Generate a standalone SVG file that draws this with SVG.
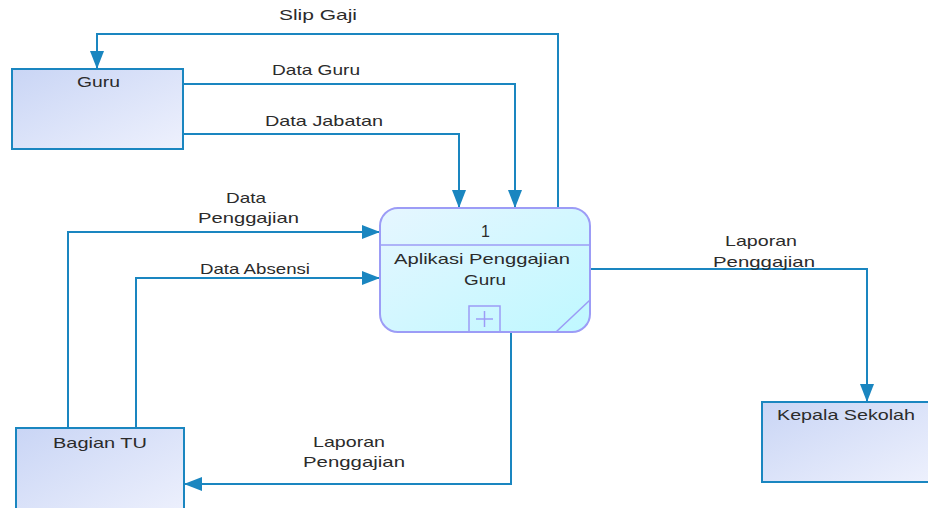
<svg xmlns="http://www.w3.org/2000/svg" width="928" height="508" viewBox="0 0 928 508">
<defs>
<linearGradient id="ent" x1="0" y1="0" x2="1" y2="1">
<stop offset="0" stop-color="#c9d5f5"/>
<stop offset="1" stop-color="#eef1fd"/>
</linearGradient>
<linearGradient id="proc" x1="0" y1="0" x2="1" y2="1">
<stop offset="0" stop-color="#e6f6ff"/>
<stop offset="1" stop-color="#bff8ff"/>
</linearGradient>
<marker id="arr" viewBox="0 0 18 14" refX="18" refY="7" markerWidth="18" markerHeight="14" markerUnits="userSpaceOnUse" orient="auto">
<path d="M0,0 L18,7 L0,14 Z" fill="#1a86c0"/>
</marker>
</defs>
<style>
text{font-family:"Liberation Sans",Arial,sans-serif;font-size:15px;fill:#2b2b2b;text-anchor:start}
.ent{fill:url(#ent);stroke:#1a86c0;stroke-width:2}
.proc{fill:url(#proc);stroke:#9c9cf6;stroke-width:2}
.pl{fill:none;stroke:#9c9cf6;stroke-width:1.5}
.c{fill:none;stroke:#1a86c0;stroke-width:2;marker-end:url(#arr)}
</style>
<g id="connectors">
<path class="c" d="M558,208 L558,34 L97,34 L97,69"/>
<path class="c" d="M183,84 L515,84 L515,208"/>
<path class="c" d="M183,134 L459,134 L459,208"/>
<path class="c" d="M68,428 L68,232 L380,232"/>
<path class="c" d="M136,428 L136,278 L380,278"/>
<path class="c" d="M511,332 L511,484 L184,484"/>
<path class="c" d="M590,269 L867,269 L867,402"/>
<text x="279" y="20" textLength="78" lengthAdjust="spacingAndGlyphs">Slip Gaji</text>
<text x="272" y="75" textLength="88" lengthAdjust="spacingAndGlyphs">Data Guru</text>
<text x="265" y="126" textLength="118" lengthAdjust="spacingAndGlyphs">Data Jabatan</text>
<text x="226" y="203" textLength="40" lengthAdjust="spacingAndGlyphs">Data</text>
<text x="198" y="223" textLength="101" lengthAdjust="spacingAndGlyphs">Penggajian</text>
<text x="200" y="274" textLength="110" lengthAdjust="spacingAndGlyphs">Data Absensi</text>
<text x="725" y="246" textLength="72" lengthAdjust="spacingAndGlyphs">Laporan</text>
<text x="713" y="267" textLength="102" lengthAdjust="spacingAndGlyphs">Penggajian</text>
<text x="313" y="447" textLength="72" lengthAdjust="spacingAndGlyphs">Laporan</text>
<text x="303" y="467" textLength="102" lengthAdjust="spacingAndGlyphs">Penggajian</text>
</g>
<g id="guru">
<rect class="ent" x="12" y="69" width="171" height="80"/>
<text x="77" y="87" textLength="43" lengthAdjust="spacingAndGlyphs">Guru</text>
</g>
<g id="bagian-tu">
<rect class="ent" x="16" y="428" width="168" height="90"/>
<text x="53" y="448" textLength="94" lengthAdjust="spacingAndGlyphs">Bagian TU</text>
</g>
<g id="kepala-sekolah">
<rect class="ent" x="762" y="402" width="175" height="80"/>
<text x="777" y="420" textLength="138" lengthAdjust="spacingAndGlyphs">Kepala Sekolah</text>
</g>
<g id="process-1">
<rect class="proc" x="380" y="208" width="210" height="124" rx="18" ry="18"/>
<line class="pl" x1="380" y1="245" x2="590" y2="245"/>
<line class="pl" x1="556" y1="332" x2="590" y2="300"/>
<rect class="pl" x="469" y="306" width="31" height="26"/>
<line class="pl" x1="476" y1="319" x2="493" y2="319"/>
<line class="pl" x1="484.5" y1="311" x2="484.5" y2="327"/>
<text x="481" y="237" style="font-size:16px">1</text>
<text x="394" y="264" textLength="176" lengthAdjust="spacingAndGlyphs">Aplikasi Penggajian</text>
<text x="464" y="285" textLength="42" lengthAdjust="spacingAndGlyphs">Guru</text>
</g>
</svg>
